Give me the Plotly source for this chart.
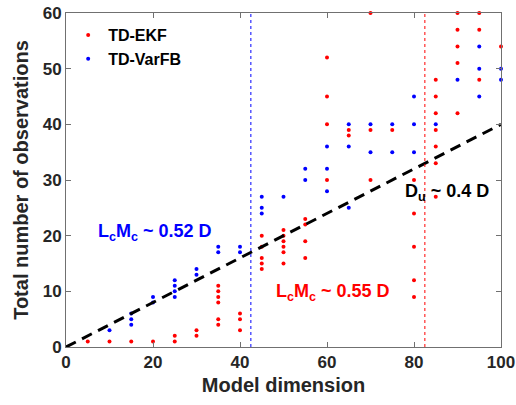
import plotly.graph_objects as go

# ---- data ----
dims = [5, 10, 15, 20, 25, 30, 35, 40, 45, 50, 55, 60, 65, 70, 75, 80, 85, 90, 95, 100]
ekf_obs = [
    [1], [1], [1], [1], [2, 1], [3, 2], [11, 10, 9, 8, 5, 4], [6, 5, 3],
    [20, 18, 16, 15, 14], [21, 20, 19, 18, 17, 15], [23, 22, 19, 16],
    [52, 45, 40, 30], [39, 38], [60, 39, 30], [39], [30, 24, 18, 12, 9],
    [48, 45, 42, 39, 36, 33, 27], [60, 57, 54, 51, 42], [60, 57, 48], [54],
]
varfb_obs = [
    [], [3], [6, 5, 4], [9, 8], [12, 11, 10, 9], [14, 13], [18, 17], [18, 17],
    [27, 25, 24], [27], [32, 30], [36, 32, 28], [40, 36, 25], [40, 35],
    [40, 35], [45, 40, 35], [40], [48], [54, 50, 45], [50, 48],
]
lcmc_varfb = 42.5
lcmc_ekf = 82.5
du_ratio = 0.4
line_x = [0, 100]

def flatten(obs):
    xs, ys = [], []
    for d, vals in zip(dims, obs):
        for v in vals:
            xs.append(d)
            ys.append(v)
    return xs, ys

ex, ey = flatten(ekf_obs)
vx, vy = flatten(varfb_obs)

FONT = "Arial, Liberation Sans, sans-serif"
fig = go.Figure()
fig.add_trace(go.Scatter(x=ex, y=ey, mode="markers", name="TD-EKF",
                         marker=dict(color="#ff0000", size=4), cliponaxis=False))
fig.add_trace(go.Scatter(x=vx, y=vy, mode="markers", name="TD-VarFB",
                         marker=dict(color="#0000ff", size=4), cliponaxis=False))
fig.add_trace(go.Scatter(x=line_x, y=[du_ratio * v for v in line_x], mode="lines",
                         showlegend=False,
                         line=dict(color="black", width=3, dash="11px,7px")))

fig.add_shape(type="line", xref="x", yref="y", x0=lcmc_varfb, x1=lcmc_varfb, y0=0, y1=60,
              line=dict(color="#0000ff", width=1, dash="dot"))
fig.add_shape(type="line", xref="x", yref="y", x0=lcmc_ekf, x1=lcmc_ekf, y0=0, y1=60,
              line=dict(color="#ff0000", width=1, dash="dot"))

ann_font = dict(family=FONT, size=18, weight="bold")
fig.add_annotation(x=6.9, y=20.6, xref="x", yref="y", xanchor="left", yanchor="middle",
                   text="L<sub>c</sub>M<sub>c</sub> ~ 0.52 D", showarrow=False,
                   font=dict(ann_font, color="#0000ff"))
fig.add_annotation(x=47.7, y=9.8, xref="x", yref="y", xanchor="left", yanchor="middle",
                   text="L<sub>c</sub>M<sub>c</sub> ~ 0.55 D", showarrow=False,
                   font=dict(ann_font, color="#ff0000"))
fig.add_annotation(x=77.4, y=27.8, xref="x", yref="y", xanchor="left", yanchor="middle",
                   text="D<sub>u</sub> ~ 0.4 D", showarrow=False,
                   font=dict(ann_font, color="#000000"))

axis_common = dict(showline=True, linecolor="#707070", linewidth=1, mirror="ticks",
                   ticks="inside", ticklen=5, tickcolor="#707070", showgrid=False,
                   zeroline=False, automargin=False,
                   tickfont=dict(family=FONT, size=17, color="#262626", weight="bold"))
fig.update_xaxes(range=[0, 100], tickvals=[0, 20, 40, 60, 80, 100], **axis_common,
                 title=dict(text="Model dimension", standoff=6,
                            font=dict(family=FONT, size=20, color="#262626", weight="bold")))
fig.update_yaxes(range=[0, 60], tickvals=[0, 10, 20, 30, 40, 50, 60], **axis_common,
                 title=dict(text="Total number of observations", standoff=8,
                            font=dict(family=FONT, size=20, color="#262626", weight="bold")))

fig.update_layout(
    width=516, height=405,
    margin=dict(l=66, r=15, t=13, b=58, autoexpand=False),
    paper_bgcolor="white", plot_bgcolor="white",
    legend=dict(x=0.005, y=0.985, xanchor="left", yanchor="top",
                bgcolor="rgba(0,0,0,0)", itemwidth=30,
                font=dict(family=FONT, size=16, color="black", weight="bold")),
)
fig.write_html("out.html")
